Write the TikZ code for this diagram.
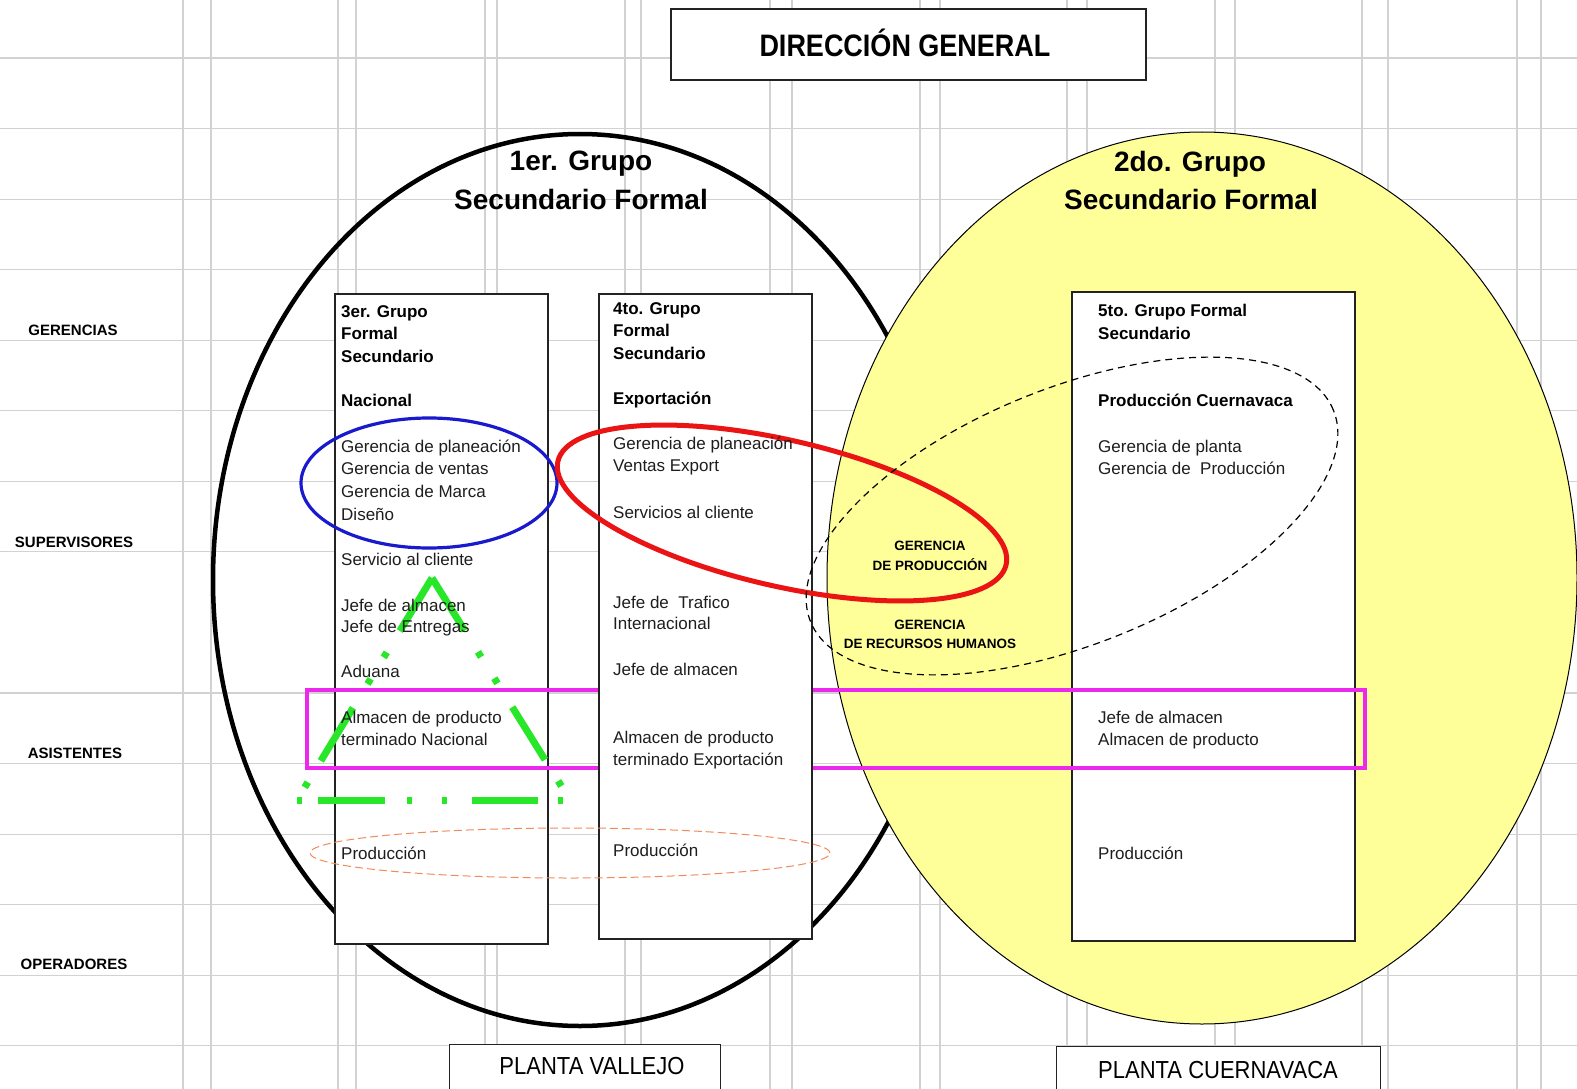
\documentclass[tikz,border=0pt]{standalone}
\usepackage{fontspec}
\setmainfont{Liberation Sans}
\begin{document}
\begin{tikzpicture}[x=1pt,y=-1pt]
\tikzset{
  gridline/.style={draw={rgb,255:red,210;green,210;blue,210}, line width=1.1pt},
  framebox/.style={draw={rgb,255:red,35;green,35;blue,35}, fill=white, line width=1.4pt, inner sep=0pt},
  itemtxt/.style={anchor=base west, inner sep=0pt, font=\fontsize{17}{20}\selectfont, text={rgb,255:red,30;green,30;blue,30}},
  headtxt/.style={anchor=base west, inner sep=0pt, font=\fontsize{17}{20}\selectfont\bfseries, text=black},
  titletxt/.style={anchor=center, inner sep=0pt, font=\fontsize{28}{34}\selectfont\bfseries},
  leveltxt/.style={anchor=center, inner sep=0pt, font=\fontsize{15}{18}\selectfont\bfseries},
  areatxt/.style={anchor=center, inner sep=0pt, font=\fontsize{13.5}{16}\selectfont\bfseries},
  planttxt/.style={anchor=center, inner sep=0pt, font=\fontsize{22}{26}\selectfont},
  greenline/.style={draw={rgb,255:red,40;green,230;blue,40}, line width=7pt},
}
\useasboundingbox (0,0) rectangle (1577,1089);
\clip (0,0) rectangle (1577,1089);
\fill[white] (0,0) rectangle (1577,1089);

% sheet grid
\foreach \yy in {58,128.6,199.1,269.7,340.2,410.8,481.3,551.9,693.0,763.5,834.1,904.6,975.2,1045.7}
  \draw[gridline] (0,\yy) -- (1577,\yy);
\foreach \xx in {183,211,338,356,485,497,625,641,770,792,920,940,1067,1087,1215,1235,1362,1388,1517,1541}
  \draw[gridline] (\xx,0) -- (\xx,1089);

% the two secondary groups
\draw[line width=4.5pt] (580,580) ellipse [x radius=367pt, y radius=446pt];
\filldraw[fill={rgb,255:red,255;green,255;blue,153}, draw=black, line width=1pt]
  (1202,578) ellipse [x radius=375pt, y radius=446pt];

% frames
\node[framebox, minimum width=475pt, minimum height=71pt] (dg) at (908.5,44.5) {};
\node[anchor=center, inner sep=0pt, font=\fontsize{27}{32}\selectfont\bfseries] (dgT) at (905,43) {\scalebox{1}[1.15]{DIRECCIÓN GENERAL}};
\node[framebox, anchor=north west, minimum width=271pt, minimum height=60pt] (vallejo) at (449,1044) {};
\node[planttxt] (vallejoT) at (592,1066) {\scalebox{1}[1.12]{PLANTA VALLEJO}};
\node[framebox, anchor=north west, minimum width=324pt, minimum height=60pt] (cuerna) at (1056,1046) {};
\node[planttxt] (cuernaT) at (1218,1070) {\scalebox{1}[1.12]{PLANTA CUERNAVACA}};

\node[framebox, minimum width=213pt, minimum height=650pt] (g3) at (441.5,619) {};
\node[framebox, minimum width=283pt, minimum height=649pt] (g5) at (1213.5,616.5) {};

% blue loop around the national managers
\draw[draw={rgb,255:red,25;green,25;blue,205}, line width=3.2pt] (429,483) ellipse [x radius=128pt, y radius=65pt];

% magenta band of assistants
\draw[draw={rgb,255:red,236;green,40;blue,236}, line width=4pt] (307,690) rectangle (1365,768);

\node[framebox, minimum width=213pt, minimum height=645pt] (g4) at (705.5,616.5) {};

% red loop, orange production loop, dashed Cuernavaca loop
\draw[draw={rgb,255:red,235;green,20;blue,20}, line width=5pt, rotate around={-13:(782,513)}]
  (782,513) ellipse [x radius=230pt, y radius=73pt];
\draw[draw={rgb,255:red,240;green,140;blue,90}, line width=1pt, dash pattern=on 8pt off 4pt]
  (570,853) ellipse [x radius=260pt, y radius=25pt];
\draw[line width=1.2pt, dash pattern=on 7pt off 5pt, rotate around={22:(1072,516)}]
  (1072,516) ellipse [x radius=282pt, y radius=128pt];

% green dash-dot triangle
\coordinate (apex) at (432,578);
\coordinate (gl) at (297,800);
\coordinate (gr) at (570,800);
\draw[greenline, dash pattern=on 62pt off 25pt on 6pt off 25pt on 6pt off 28pt] (apex) -- (gl);
\draw[greenline, dash pattern=on 62pt off 25pt on 6pt off 25pt on 6pt off 28pt] (apex) -- (gr);
\draw[greenline, dash pattern=on 5pt off 16pt on 67pt off 22pt on 5pt off 30pt on 5pt off 25pt on 66pt off 20pt on 5pt off 20pt] (gl) -- (gr);

% group titles
\node[titletxt] (t1a) at (581,164) {1er. Grupo};
\node[titletxt] (t1b) at (581,199) {Secundario Formal};
\node[titletxt] (t2a) at (1190,164) {2do. Grupo};
\node[titletxt] (t2b) at (1191,199) {Secundario Formal};

% hierarchy levels
\node[leveltxt] (lv1) at (73,330) {GERENCIAS};
\node[leveltxt] (lv2) at (74,542) {SUPERVISORES};
\node[leveltxt] (lv3) at (75,753) {ASISTENTES};
\node[leveltxt] (lv4) at (74,964) {OPERADORES};

% shared management areas
\node[areatxt] (ar1) at (930,546) {GERENCIA};
\node[areatxt] (ar2) at (930,565) {DE PRODUCCIÓN};
\node[areatxt] (ar3) at (930,625) {GERENCIA};
\node[areatxt] (ar4) at (930,644) {DE RECURSOS HUMANOS};

% 3er. grupo
\foreach \t/\yy [count=\i] in {3er. Grupo/317, Formal/339, Secundario/362, Nacional/406}
  \node[headtxt] (h3-\i) at (341,\yy) {\t};
\foreach \t/\yy [count=\i] in {Gerencia de planeación/452.5, Gerencia de ventas/474.7,
    Gerencia de Marca/497.8, Diseño/520, Servicio al cliente/565, Jefe de almacen/611.4,
    Jefe de Entregas/632.5, Aduana/677, Almacen de producto/723, terminado Nacional/745,
    Producción/859}
  \node[itemtxt] (c3-\i) at (341,\yy) {\t};

% 4to. grupo
\foreach \t/\yy [count=\i] in {4to. Grupo/314, Formal/336, Secundario/359, Exportación/404}
  \node[headtxt] (h4-\i) at (613,\yy) {\t};
\foreach \t/\yy [count=\i] in {Gerencia de planeación/449.5, Ventas Export/471.6,
    Servicios al cliente/518, Jefe de~ Trafico/608.4, Internacional/629.5,
    Jefe de almacen/675, Almacen de producto/743, terminado Exportación/765,
    Producción/856}
  \node[itemtxt] (c4-\i) at (613,\yy) {\t};

% 5to. grupo
\foreach \t/\yy [count=\i] in {5to. Grupo Formal/316, Secundario/339, Producción Cuernavaca/406}
  \node[headtxt] (h5-\i) at (1098,\yy) {\t};
\foreach \t/\yy [count=\i] in {Gerencia de planta/452.5, Gerencia de~ Producción/474.7,
    Jefe de almacen/723, Almacen de producto/745, Producción/859}
  \node[itemtxt] (c5-\i) at (1098,\yy) {\t};
\end{tikzpicture}
\end{document}
